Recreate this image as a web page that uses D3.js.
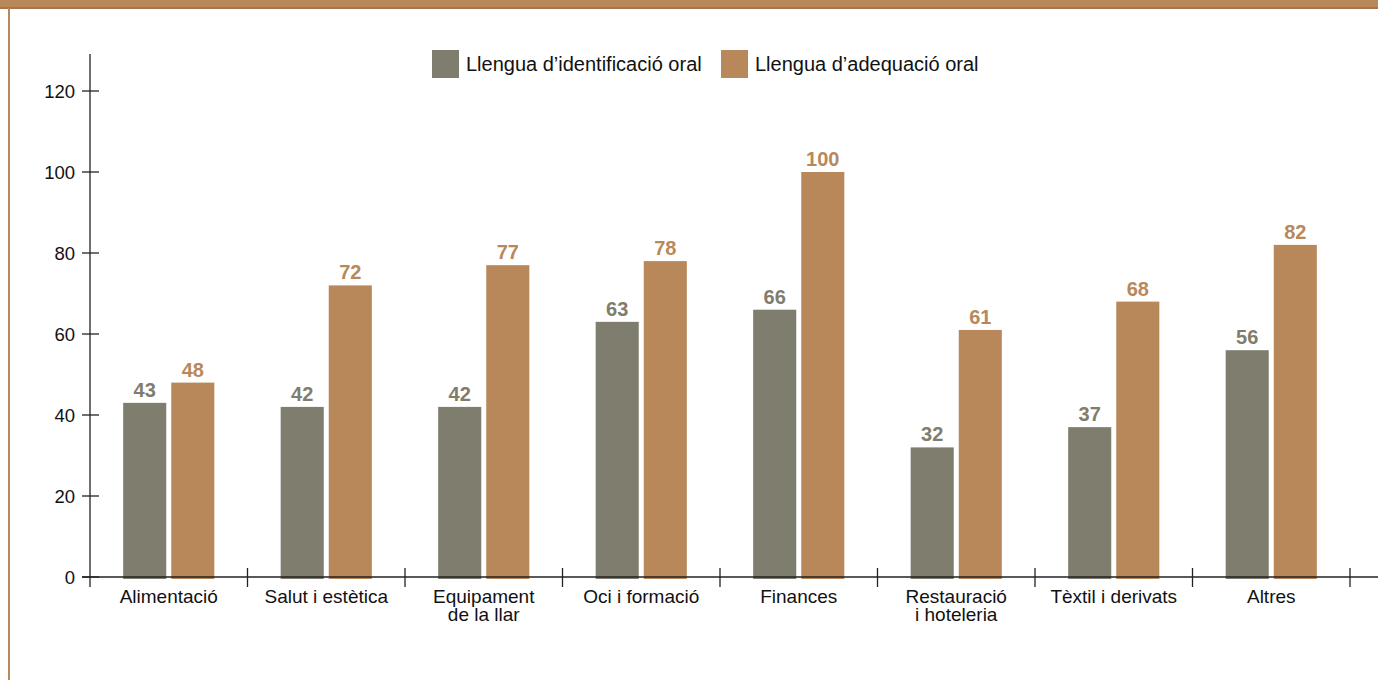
<!DOCTYPE html>
<html>
<head>
<meta charset="utf-8">
<script src="https://cdn.jsdelivr.net/npm/d3@7"></script>
<style>
  html, body { margin: 0; padding: 0; background: #fff; }
  svg { display: block; font-family: "Liberation Sans", Arial, Helvetica, sans-serif; }
</style>
</head>
<body>
<svg id="chart" width="1378" height="680"></svg>
<script>
// Sectors (multi-line labels split with "\n")
const categories = ["Alimentació", "Salut i estètica", "Equipament\nde la llar", "Oci i formació",
  "Finances", "Restauració\ni hoteleria", "Tèxtil i derivats", "Altres"];
const identificacio = [43, 42, 42, 63, 66, 32, 37, 56];
const adequacio = [48, 72, 77, 78, 100, 61, 68, 82];
const seriesNames = ["Llengua d’identificació oral", "Llengua d’adequació oral"];
const yTicks = [0, 20, 40, 60, 80, 100, 120];

const colors = ["#7f7d6e", "#b8885b"];
const svg = d3.select("#chart");

// Page frame: top band and left rule
svg.append("rect").attr("x", 0).attr("y", 0).attr("width", 1378).attr("height", 8).attr("fill", "#b8885b");
svg.append("rect").attr("x", 0).attr("y", 7).attr("width", 1378).attr("height", 2).attr("fill", "#a87448");
svg.append("rect").attr("x", 8).attr("y", 8).attr("width", 2).attr("height", 672).attr("fill", "#b8885b");

const x0 = 90, x1 = 1350;
const y = d3.scaleLinear().domain([0, 120]).range([577, 91]);
const x = d3.scaleBand().domain(categories).range([x0, x1]).paddingInner(0).paddingOuter(0);
const xs = d3.scaleBand().domain([0, 1]).range([0, x.bandwidth()]).paddingInner(0.104).paddingOuter(0.69);

// Bars
const series = [identificacio, adequacio];
series.forEach((vals, s) => {
  const g = svg.append("g");
  g.selectAll("rect").data(vals).join("rect")
    .attr("x", (d, i) => x(categories[i]) + xs(s))
    .attr("y", d => y(d))
    .attr("width", xs.bandwidth())
    .attr("height", d => y(0) - y(d) + 2)
    .attr("fill", colors[s]);
  g.selectAll("text").data(vals).join("text")
    .attr("x", (d, i) => x(categories[i]) + xs(s) + xs.bandwidth() / 2)
    .attr("y", d => y(d) - 6)
    .attr("text-anchor", "middle")
    .attr("font-size", 20)
    .attr("font-weight", "bold")
    .attr("fill", colors[s])
    .text(d => d);
});

// Y axis
const yAxis = svg.append("g");
yAxis.append("line").attr("x1", x0).attr("x2", x0).attr("y1", 54).attr("y2", 587)
  .attr("stroke", "#222").attr("stroke-width", 1.3);
yAxis.selectAll("line.tick").data(yTicks).join("line").attr("class", "tick")
  .attr("x1", 82).attr("x2", 99).attr("y1", d => y(d)).attr("y2", d => y(d))
  .attr("stroke", "#222").attr("stroke-width", 1.3);
yAxis.selectAll("text").data(yTicks).join("text")
  .attr("x", 75).attr("y", d => y(d) + 7)
  .attr("text-anchor", "end").attr("font-size", 18.5).attr("fill", "#111")
  .text(d => d);

// X axis
const xAxis = svg.append("g");
xAxis.append("line").attr("x1", 82).attr("x2", 1378).attr("y1", y(0)).attr("y2", y(0))
  .attr("stroke", "#222").attr("stroke-width", 1.3);
const bounds = categories.map(c => x(c) + x.bandwidth());
xAxis.selectAll("line.tick").data(bounds).join("line").attr("class", "tick")
  .attr("x1", d => d).attr("x2", d => d).attr("y1", 568).attr("y2", 587)
  .attr("stroke", "#222").attr("stroke-width", 1.3);
xAxis.selectAll("text").data(categories).join("text")
  .attr("x", d => x(d) + x.bandwidth() / 2)
  .attr("y", 603)
  .attr("text-anchor", "middle").attr("font-size", 19).attr("fill", "#111")
  .each(function(d) {
    d.split("\n").forEach((line, i) => {
      d3.select(this).append("tspan").attr("x", x(d) + x.bandwidth() / 2)
        .attr("dy", i === 0 ? 0 : 18).text(line);
    });
  });

// Legend
const legendX = [432, 721];
const legend = svg.append("g");
seriesNames.forEach((name, i) => {
  legend.append("rect").attr("x", legendX[i]).attr("y", 50).attr("width", 27).attr("height", 28).attr("fill", colors[i]);
  legend.append("text").attr("x", legendX[i] + 34).attr("y", 71)
    .attr("font-size", 20).attr("fill", "#111").text(name);
});
</script>
</body>
</html>
